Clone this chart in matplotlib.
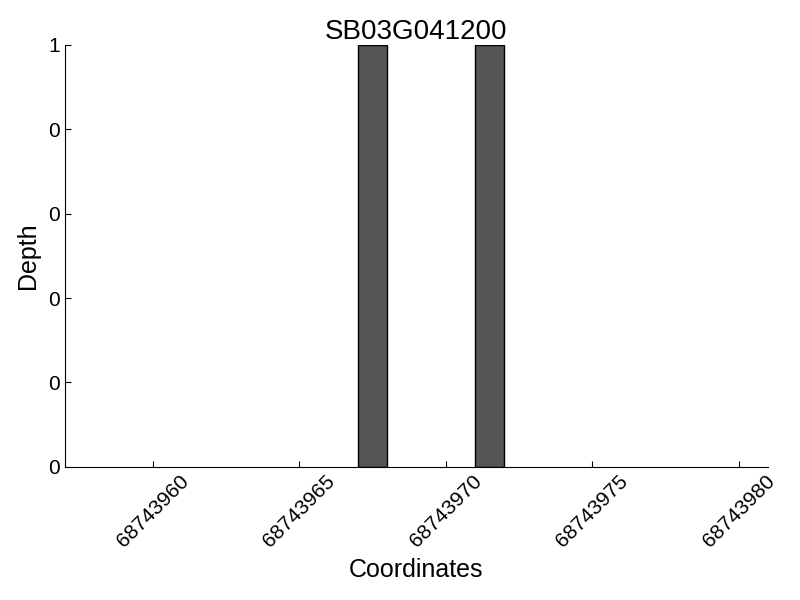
import matplotlib
matplotlib.use("Agg")
import matplotlib.pyplot as plt
from matplotlib.ticker import FormatStrFormatter, MultipleLocator

# coordenadas e profundidade
coords = [68743967, 68743971]
depth = [1, 1]
xmin, xmax = 68743957, 68743981

plt.rcParams["font.family"] = ["Liberation Sans", "DejaVu Sans"]

fig = plt.figure(figsize=(8, 6), dpi=100)
ax = fig.add_axes([0.081, 0.222, 0.879, 0.703])

ax.bar(coords, depth, width=1, align="edge", color="#555555",
       edgecolor="black", linewidth=1)

ax.set_xlim(xmin, xmax)
ax.set_ylim(0, 1)
ax.xaxis.set_major_locator(MultipleLocator(5))
ax.xaxis.set_major_formatter(FormatStrFormatter("%d"))
ax.yaxis.set_major_locator(MultipleLocator(0.2))
ax.yaxis.set_major_formatter(FormatStrFormatter("%d"))

ax.spines["top"].set_visible(False)
ax.spines["right"].set_visible(False)
ax.tick_params(direction="in", length=4, labelsize=15)
ax.tick_params(axis="x", rotation=45)

ax.set_title("SB03G041200", fontsize=20, pad=2)
ax.set_xlabel("Coordinates", fontsize=18, labelpad=5)
ax.set_ylabel("Depth", fontsize=18, labelpad=6)

fig.savefig("out.png", dpi=100)
